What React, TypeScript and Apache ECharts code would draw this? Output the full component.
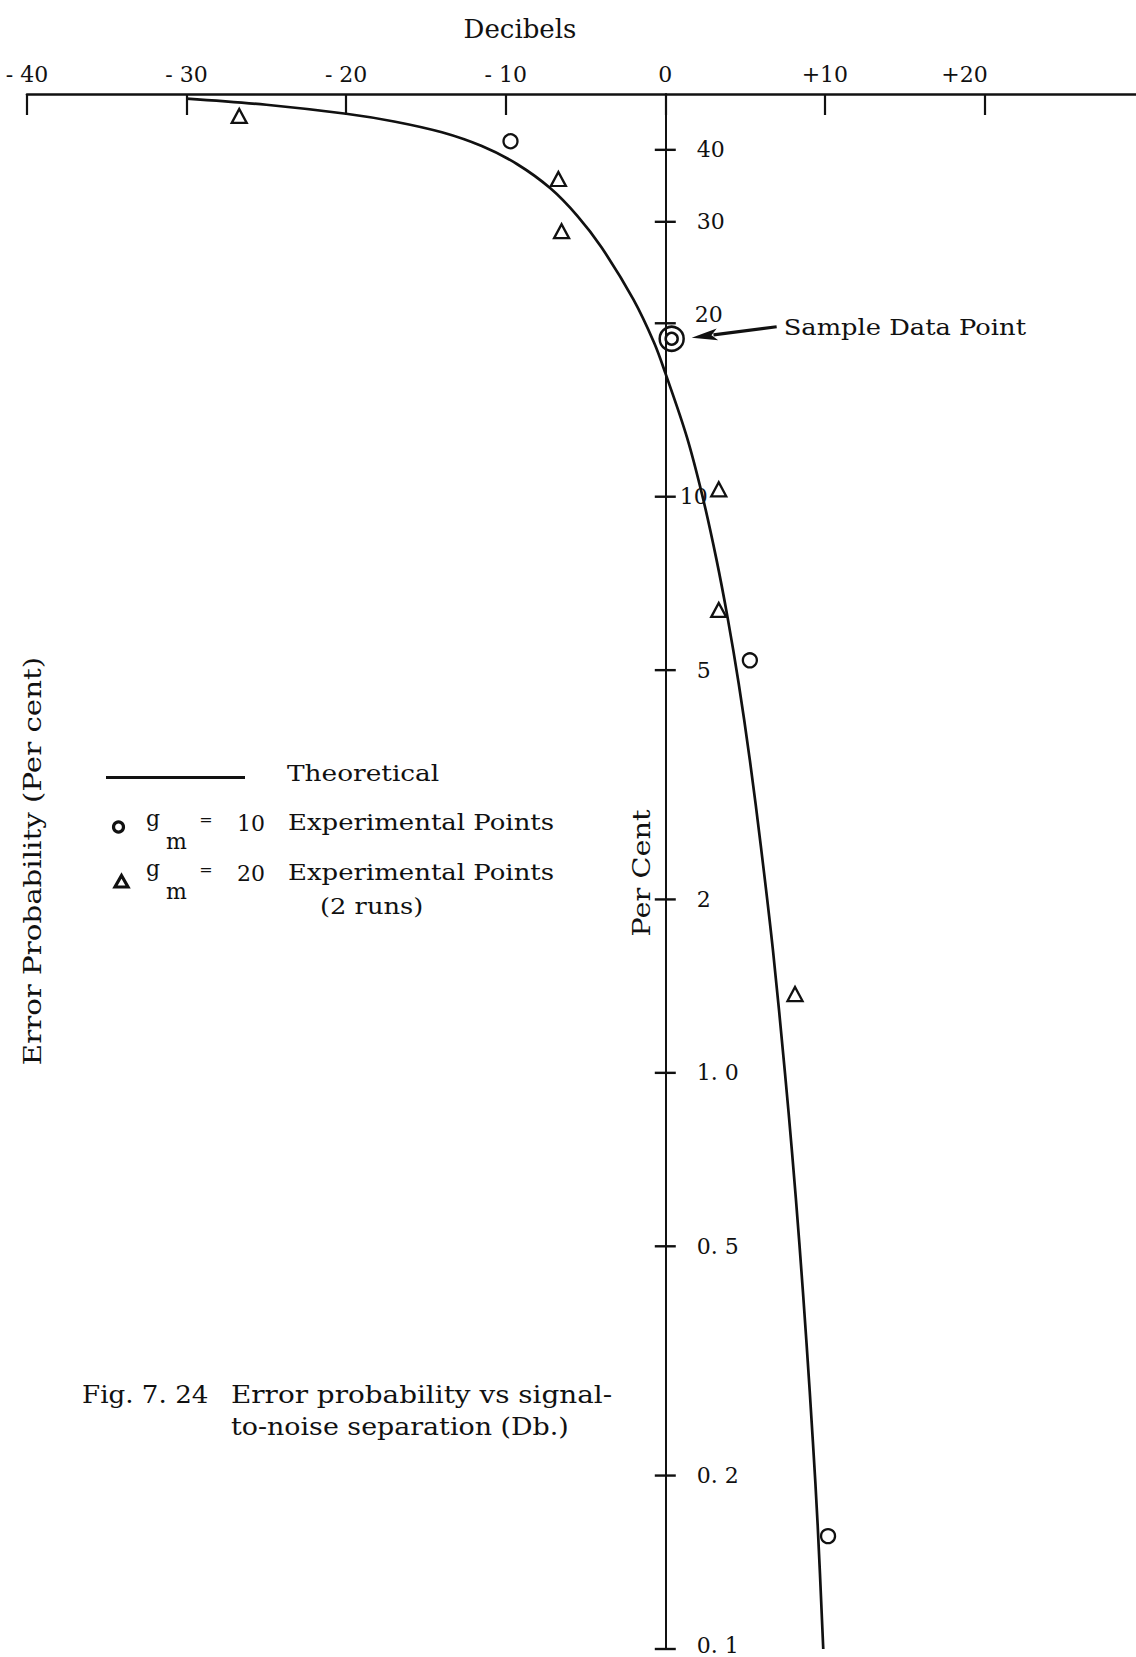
import React, { useEffect, useRef } from 'react';
import * as echarts from 'echarts';

const FONT = "'DejaVu Serif', 'Liberation Serif', serif";
const INK = '#111';

// Theoretical error probability: [signal-to-noise separation (dB), error probability (%)]
const theoreticalCurve: [number, number][] = [
  [-30, 49.1], [-25, 47.9], [-20, 46.2], [-17, 44.8], [-14, 42.9], [-11.5, 40.6],
  [-9.3, 37.8], [-7.2, 34.3], [-5.5, 30.7], [-4, 27.1], [-2, 22.0], [-0.7, 18.5],
  [0, 16.4], [1.35, 12.7], [2.35, 9.97], [3.2, 7.8], [3.9, 6.18], [4.6, 4.74],
  [5.3, 3.49], [6.0, 2.46], [6.75, 1.63], [7.5, 1.0], [7.95, 0.724], [8.4, 0.507],
  [8.85, 0.34], [9.25, 0.229], [9.55, 0.164], [9.9, 0.1],
];

// g_m = 10 experimental points
const circlePoints: [number, number][] = [[-9.7, 41.4], [5.3, 5.2], [10.2, 0.157]];

// g_m = 20 experimental points (2 runs)
const trianglePoints: [number, number][] = [
  [-26.7, 45.8], [-6.7, 35.6], [-6.5, 28.9], [3.35, 10.3], [3.35, 6.36], [8.13, 1.37],
];

// the marked sample data point
const samplePoint: [number, number][] = [[0.4, 18.8]];

// decibel scale along the top
const xTickValues = [-40, -30, -20, -10, 0, 10, 20];
const xTickLabels = ['- 40', '- 30', '- 20', '- 10', '0', '+10', '+20'];

// per cent scale along the 0 dB line
const yTickValues = [40, 30, 20, 10, 5, 2, 1, 0.5, 0.2, 0.1];
const yTickLabels = ['40', '30', '20', '10', '5', '2', '1. 0', '0. 5', '0. 2', '0. 1'];

// label placement tweaks for crowded per-cent ticks
const yLabelNudge: Record<string, { distance?: number; offset?: [number, number] }> = {
  '20': { offset: [-2, -9] },
  '10': { distance: 4 },
  '0. 1': { offset: [0, -4] },
};

type TextOpts = { size?: number; scaleX?: number; align?: string; rotation?: number };
const text = (content: string, x: number, y: number, o: TextOpts = {}) => ({
  type: 'text',
  x,
  y,
  rotation: o.rotation ?? 0,
  scaleX: o.scaleX ?? 1,
  silent: true,
  style: {
    text: content,
    fill: INK,
    fontFamily: FONT,
    fontSize: o.size ?? 22,
    align: o.align ?? 'left',
    verticalAlign: 'middle',
  },
});

export default function App() {
  const ref = useRef<HTMLDivElement>(null);

  useEffect(() => {
    if (!ref.current) return;
    const chart = echarts.init(ref.current, null, { renderer: 'svg' });

    const hollow = { color: 'rgba(0,0,0,0)', borderColor: INK, borderWidth: 2.3, opacity: 1 };

    chart.setOption({
      animation: false,
      backgroundColor: '#fff',
      grid: {
        left: 27,
        top: 94,
        width: 1117,
        height: 1555,
        containLabel: false,
        outerBoundsMode: 'none',
      },
      xAxis: {
        type: 'value',
        position: 'top',
        min: -40,
        max: 30,
        interval: 10,
        axisLine: { show: true, onZero: false, lineStyle: { color: INK, width: 2.6 } },
        axisTick: { show: true, inside: true, length: 21, lineStyle: { color: INK, width: 2.2 } },
        splitLine: { show: false },
        axisLabel: {
          show: true,
          margin: 9,
          color: INK,
          fontFamily: FONT,
          fontSize: 22,
          formatter: (v: number) => {
            const i = xTickValues.indexOf(v);
            if (i < 0) return '';
            return v === 20 ? `{shift|${xTickLabels[i]}}` : xTickLabels[i];
          },
          rich: {
            shift: { color: INK, fontFamily: FONT, fontSize: 22, padding: [0, 40, 0, 0] },
          },
        },
      },
      yAxis: {
        type: 'log',
        logBase: 10,
        min: 0.1,
        max: 50,
        axisLine: { show: true, onZero: true, lineStyle: { color: INK, width: 2 } },
        axisTick: { show: false },
        axisLabel: { show: false },
        splitLine: { show: false },
      },
      series: [
        {
          name: 'Theoretical',
          type: 'line',
          data: theoreticalCurve,
          showSymbol: false,
          symbol: 'none',
          smooth: 0.35,
          lineStyle: { color: INK, width: 2.7 },
          silent: true,
          z: 3,
        },
        {
          name: 'per cent ticks',
          type: 'scatter',
          silent: true,
          symbol: 'rect',
          symbolSize: [21, 2.4],
          itemStyle: { color: INK, opacity: 1 },
          data: yTickValues.map((v, i) => {
            const nudge = yLabelNudge[yTickLabels[i]] || {};
            return {
              value: [0, v],
              label: {
                show: true,
                position: 'right',
                distance: nudge.distance ?? 21,
                offset: nudge.offset ?? [0, 0],
                formatter: yTickLabels[i],
                color: INK,
                fontFamily: FONT,
                fontSize: 22,
              },
            };
          }),
          z: 4,
        },
        {
          name: 'g_m = 10',
          type: 'scatter',
          silent: true,
          symbol: 'circle',
          symbolSize: 14,
          itemStyle: hollow,
          data: circlePoints,
          z: 5,
        },
        {
          name: 'g_m = 20',
          type: 'scatter',
          silent: true,
          symbol: 'triangle',
          symbolSize: [15, 14],
          itemStyle: hollow,
          data: trianglePoints,
          z: 5,
        },
        {
          name: 'sample outer',
          type: 'scatter',
          silent: true,
          symbol: 'circle',
          symbolSize: 24,
          itemStyle: { ...hollow, borderWidth: 2.5 },
          data: samplePoint,
          z: 5,
        },
        {
          name: 'sample inner',
          type: 'scatter',
          silent: true,
          symbol: 'circle',
          symbolSize: 12,
          itemStyle: { ...hollow, borderWidth: 2.5 },
          data: samplePoint,
          z: 5,
        },
      ],
    });

    // annotation arrow pointing at the sample data point
    const [sx, sy] = chart.convertToPixel({ gridIndex: 0 }, samplePoint[0]) as number[];
    const tip = [sx + 20, sy - 1];
    const tail = [sx + 105, sy - 12];
    const dx = tip[0] - tail[0];
    const dy = tip[1] - tail[1];
    const len = Math.hypot(dx, dy);
    const ux = dx / len;
    const uy = dy / len;
    const base = [tip[0] - ux * 26, tip[1] - uy * 26];
    const head = [
      tip,
      [base[0] - uy * 6, base[1] + ux * 6],
      [base[0] + ux * 6, base[1] + uy * 6],
      [base[0] + uy * 6, base[1] - ux * 6],
    ];

    chart.setOption({
      graphic: {
        elements: [
          text('Decibels', 520, 29, { size: 26, align: 'center' }),
          text('Error Probability (Per cent)', 32, 861, {
            size: 24, scaleX: 1.22, align: 'center', rotation: Math.PI / 2,
          }),
          text('Per Cent', 641, 873, { size: 24, scaleX: 1.2, align: 'center', rotation: Math.PI / 2 }),

          // arrow + label for the sample point
          {
            type: 'line',
            silent: true,
            shape: { x1: tail[0], y1: tail[1], x2: base[0] + ux * 4, y2: base[1] + uy * 4 },
            style: { stroke: INK, lineWidth: 3.2 },
          },
          { type: 'polygon', silent: true, shape: { points: head }, style: { fill: INK } },
          text('Sample Data Point', tail[0] + 7, sy - 12, { size: 23, scaleX: 1.12 }),

          // key
          {
            type: 'line',
            silent: true,
            shape: { x1: 106, y1: 777.5, x2: 245, y2: 777.5 },
            style: { stroke: INK, lineWidth: 3 },
          },
          text('Theoretical', 287, 773, { size: 22, scaleX: 1.2 }),
          {
            type: 'circle',
            silent: true,
            shape: { cx: 118.5, cy: 827, r: 5 },
            style: { fill: 'none', stroke: INK, lineWidth: 3.2 },
          },
          text('g', 146, 818, { size: 22 }),
          text('m', 166, 841, { size: 22 }),
          text('=', 206, 819, { size: 16, align: 'center' }),
          text('10', 237, 823, { size: 22 }),
          text('Experimental Points', 288, 823, { size: 22, scaleX: 1.18 }),
          {
            type: 'polygon',
            silent: true,
            shape: { points: [[121.5, 875.5], [128, 887], [115, 887]] },
            style: { fill: 'none', stroke: INK, lineWidth: 3.2, lineJoin: 'miter' },
          },
          text('g', 146, 868, { size: 22 }),
          text('m', 166, 891, { size: 22 }),
          text('=', 206, 869, { size: 16, align: 'center' }),
          text('20', 237, 873, { size: 22 }),
          text('Experimental Points', 288, 873, { size: 22, scaleX: 1.18 }),
          text('(2 runs)', 320, 907, { size: 22, scaleX: 1.17 }),

          // caption
          text('Fig. 7. 24', 82, 1395, { size: 24, scaleX: 1.09 }),
          text('Error probability vs signal-', 231, 1395, { size: 24, scaleX: 1.16 }),
          text('to-noise separation (Db.)', 231, 1427, { size: 24, scaleX: 1.12 }),
        ],
      },
    });

    return () => chart.dispose();
  }, []);

  return (
    <div
      ref={ref}
      style={{ position: 'absolute', left: 0, top: 0, width: 1136, height: 1657, background: '#fff' }}
    />
  );
}
